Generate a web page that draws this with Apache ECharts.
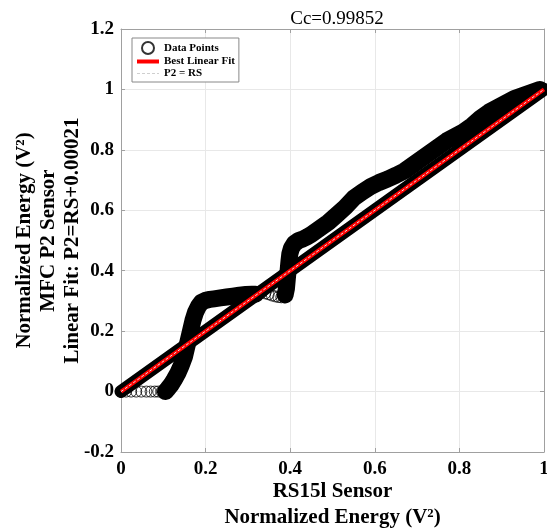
<!DOCTYPE html>
<html>
<head>
<meta charset="utf-8">
<script src="https://cdn.jsdelivr.net/npm/echarts@6/dist/echarts.min.js"></script>
<style>html,body{margin:0;padding:0;background:#fff}#c{width:547px;height:529px}</style>
</head>
<body>
<div id="c"></div>
<script>
// ---- data ----
const titleText = 'Cc=0.99852';
const xTicks = [0, 0.2, 0.4, 0.6, 0.8, 1];
const yTicks = [-0.2, 0, 0.2, 0.4, 0.6, 0.8, 1, 1.2];

// sparse open circles at y = 0
const sparseAX = [0.000, 0.012, 0.024, 0.036, 0.048, 0.060, 0.070, 0.080, 0.088, 0.096, 0.103];
const sparseAY = [0, 0, 0, 0, 0, 0, 0, 0, 0, 0, 0];

// dense band: rise and plateau
const dense1X = [0.105, 0.110, 0.118, 0.126, 0.134, 0.142, 0.150, 0.155, 0.160, 0.165, 0.170, 0.176, 0.183, 0.190, 0.200, 0.210, 0.220, 0.235, 0.250, 0.265, 0.280, 0.295, 0.310, 0.318];
const dense1Y = [0.000, 0.008, 0.022, 0.040, 0.060, 0.085, 0.115, 0.145, 0.175, 0.205, 0.235, 0.262, 0.282, 0.295, 0.302, 0.305, 0.307, 0.310, 0.313, 0.316, 0.319, 0.321, 0.322, 0.322];

// sparse open circles on the plateau
const sparseBX = [0.325, 0.333, 0.341, 0.349, 0.357, 0.365, 0.372, 0.379, 0.385];
const sparseBY = [0.330, 0.328, 0.325, 0.322, 0.318, 0.315, 0.313, 0.312, 0.315];

// dense band: second rise and upper part
const dense2X = [0.388, 0.391, 0.393, 0.395, 0.397, 0.399, 0.403, 0.410, 0.420, 0.430, 0.440, 0.450, 0.470, 0.490, 0.510, 0.530, 0.550, 0.570, 0.590, 0.610, 0.630, 0.650, 0.670, 0.690, 0.710, 0.730, 0.750, 0.770, 0.790, 0.810, 0.830, 0.850, 0.870, 0.890, 0.910, 0.930, 0.950, 0.970, 0.990];
const dense2Y = [0.320, 0.340, 0.370, 0.400, 0.430, 0.455, 0.475, 0.490, 0.500, 0.505, 0.512, 0.520, 0.540, 0.560, 0.585, 0.610, 0.640, 0.660, 0.678, 0.692, 0.703, 0.716, 0.730, 0.750, 0.770, 0.790, 0.810, 0.830, 0.845, 0.860, 0.880, 0.905, 0.925, 0.940, 0.955, 0.970, 0.980, 0.990, 1.000];

// fit line P2 = RS + 0.00021 and identity line (end points)
const fitX = [0, 1];
const fitY = [0.00021, 1.00021];
const idX = [0, 1];
const idY = [0, 1];

// ---- build ----
const zip = (xs, ys) => xs.map((x, i) => [x, ys[i]]);
const allPts = zip(sparseAX, sparseAY).concat(zip(dense1X, dense1Y), zip(sparseBX, sparseBY), zip(dense2X, dense2Y));
const font = 'Liberation Serif';

const chart = echarts.init(document.getElementById('c'), null, {renderer: 'canvas'});
const baseAxis = {
  type: 'value',
  axisLine: {show: true, onZero: false, lineStyle: {color: '#a0a0a0', width: 1}},
  axisTick: {show: true, inside: true, length: 4, lineStyle: {color: '#a0a0a0'}},
  splitLine: {show: true, lineStyle: {color: '#e8e8e8', width: 1}},
  axisLabel: {color: '#000', fontFamily: font, fontWeight: 'bold', fontSize: 19}
};
chart.setOption({
  animation: false,
  backgroundColor: '#fff',
  title: {
    text: titleText, left: 332, top: 5, textAlign: 'center',
    textStyle: {fontFamily: font, fontWeight: 'normal', fontSize: 19, color: '#000'}
  },
  grid: {left: 121, right: 3, top: 29, bottom: 77, show: false, containLabel: false, outerBoundsMode: 'none'},
  legend: {
    orient: 'vertical', left: 132, top: 38,
    padding: [3, 4, 3, 3], itemGap: 1, itemWidth: 22, itemHeight: 12,
    backgroundColor: '#fff', borderColor: '#888', borderWidth: 1, borderRadius: 0,
    textStyle: {fontFamily: font, fontWeight: 'bold', fontSize: 11, color: '#000'},
    data: [
      {name: 'Data Points'},
      {name: 'Best Linear Fit', itemStyle: {opacity: 0}, lineStyle: {width: 4, color: '#ff0000'}},
      {name: 'P2 = RS', itemStyle: {opacity: 0}, lineStyle: {width: 1, color: '#cfcfcf', type: [3, 2]}}
    ]
  },
  xAxis: [
    Object.assign({}, baseAxis, {
      min: xTicks[0], max: xTicks[xTicks.length - 1], interval: 0.2, position: 'bottom',
      axisLabel: Object.assign({}, baseAxis.axisLabel, {margin: 8}),
      name: 'RS15l Sensor\nNormalized Energy (V²)', nameLocation: 'middle', nameGap: 27,
      nameMoveOverlap: false,
      nameTextStyle: {fontFamily: font, fontWeight: 'bold', fontSize: 21, color: '#000', lineHeight: 26}
    }),
    Object.assign({}, baseAxis, {
      min: xTicks[0], max: xTicks[xTicks.length - 1], interval: 0.2, position: 'top',
      axisLabel: {show: false}, splitLine: {show: false}
    })
  ],
  yAxis: [
    Object.assign({}, baseAxis, {
      min: yTicks[0], max: yTicks[yTicks.length - 1], interval: 0.2, position: 'left',
      axisLabel: Object.assign({}, baseAxis.axisLabel, {margin: 7}),
      name: 'Normalized Energy (V²)\nMFC P2 Sensor\nLinear Fit: P2=RS+0.00021',
      nameLocation: 'middle', nameGap: 36, nameRotate: 90, nameMoveOverlap: false,
      nameTextStyle: {fontFamily: font, fontWeight: 'bold', fontSize: 21, color: '#000', lineHeight: 24}
    }),
    Object.assign({}, baseAxis, {
      min: yTicks[0], max: yTicks[yTicks.length - 1], interval: 0.2, position: 'right',
      axisLabel: {show: false}, splitLine: {show: false}
    })
  ],
  series: [
    {
      type: 'line', name: 'band1', data: zip(dense1X, dense1Y), showSymbol: false, symbol: 'none',
      lineStyle: {color: '#000', width: 17, cap: 'round', join: 'round'}, z: 1, silent: true
    },
    {
      type: 'line', name: 'band2', data: zip(dense2X, dense2Y), showSymbol: false, symbol: 'none',
      lineStyle: {color: '#000', width: 17, cap: 'round', join: 'round'}, z: 1, silent: true
    },
    {
      type: 'scatter', name: 'Data Points', data: allPts, symbol: 'circle', symbolSize: 11,
      itemStyle: {color: 'rgba(255,255,255,0)', borderColor: '#000', borderWidth: 1}, z: 2
    },
    {
      type: 'line', name: 'fitBand', data: zip(fitX, fitY), showSymbol: false, symbol: 'none',
      lineStyle: {color: '#000', width: 13, cap: 'round'}, z: 3, silent: true
    },
    {
      type: 'line', name: 'Best Linear Fit', data: zip(fitX, fitY), showSymbol: false, symbol: 'none',
      itemStyle: {color: '#ff0000'},
      lineStyle: {color: '#ff0000', width: 4}, z: 4
    },
    {
      type: 'line', name: 'P2 = RS', data: zip(idX, idY), showSymbol: false, symbol: 'none',
      itemStyle: {color: '#cfcfcf'},
      lineStyle: {color: '#e6e6e6', width: 1, type: [3, 2]}, z: 5
    }
  ]
});
</script>
</body>
</html>
